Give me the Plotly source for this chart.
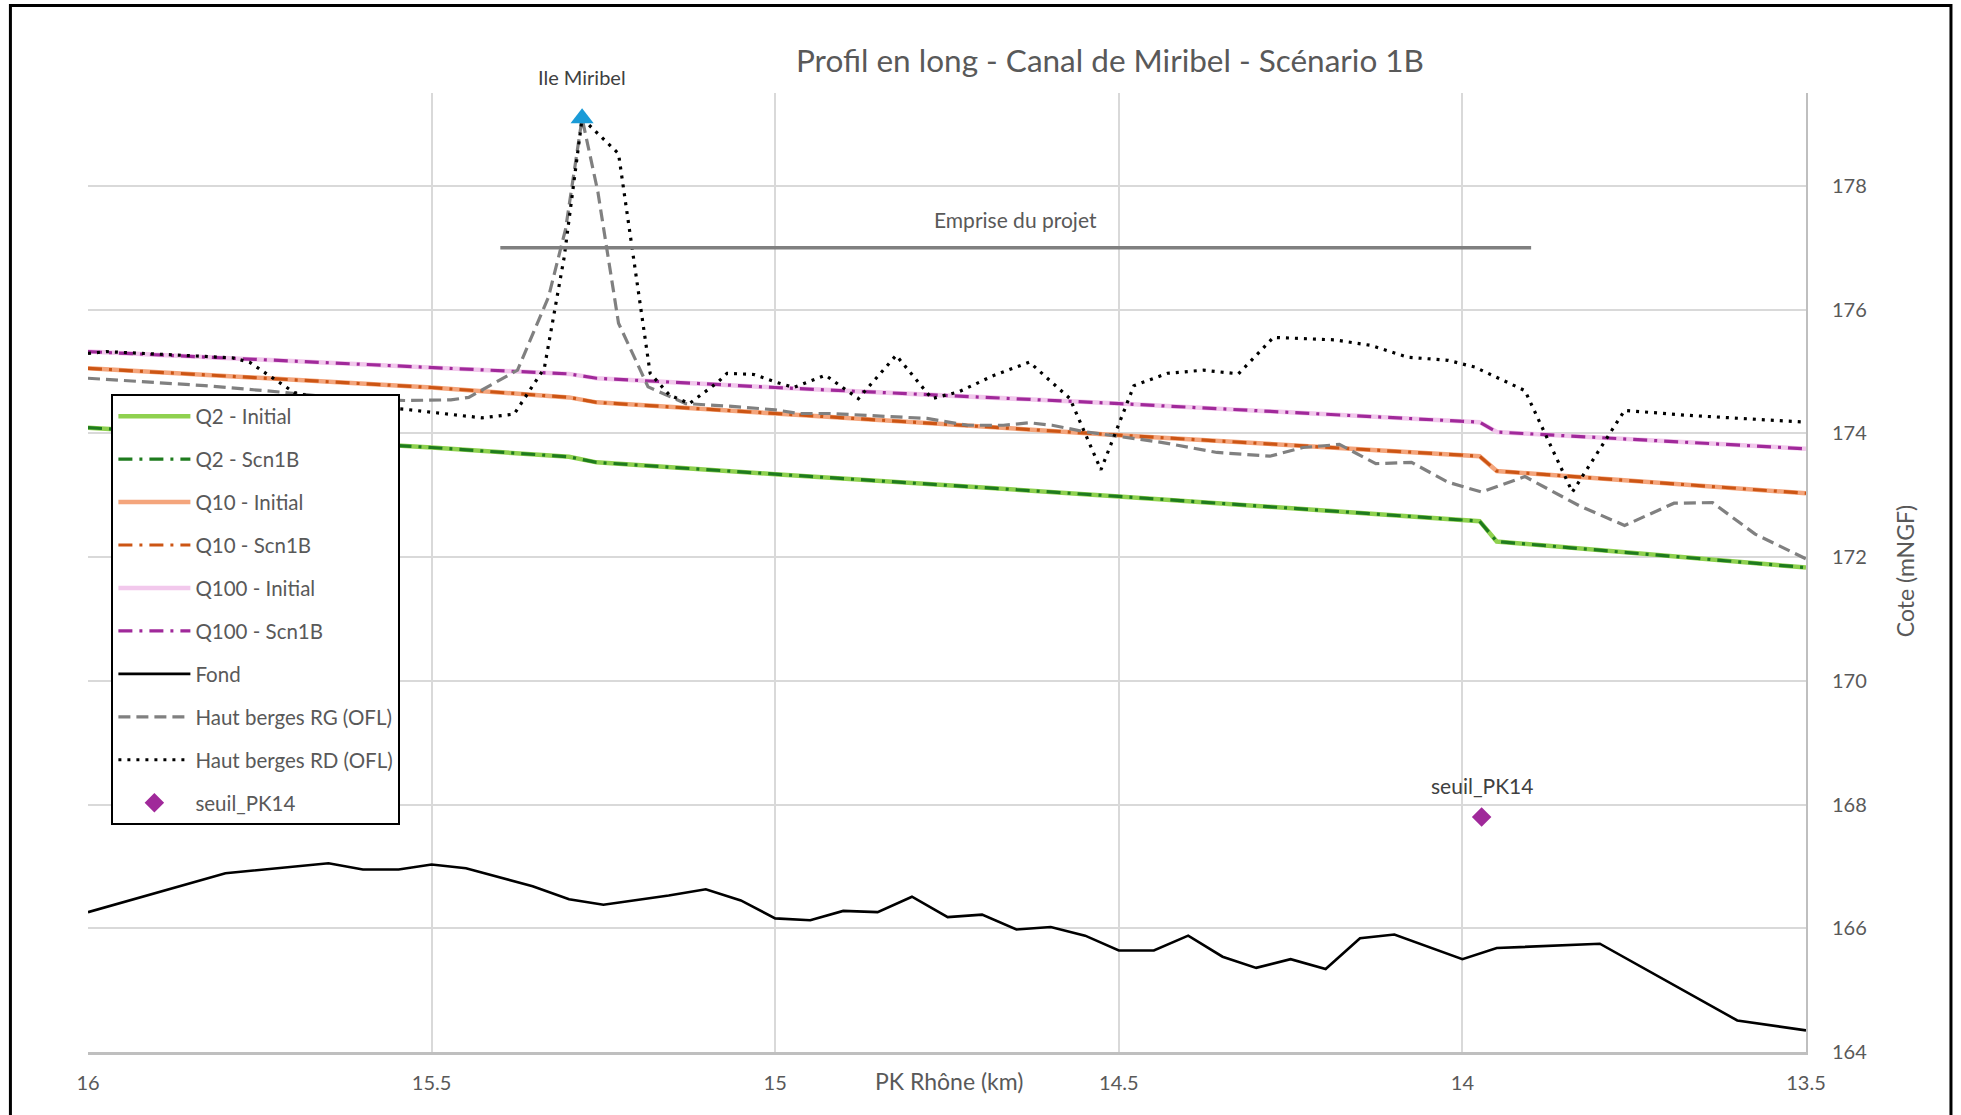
import plotly.graph_objects as go

# ---- Data: PK Rhône (km) and elevations (mNGF) ----
km_q = [16.0, 15.5, 15.3, 15.26, 15.0, 14.5, 13.975, 13.95, 13.5]
q2_initial = [174.09, 173.77, 173.62, 173.53, 173.34, 172.98, 172.58, 172.25, 171.83]
q2_scn1b = [174.09, 173.77, 173.62, 173.53, 173.34, 172.98, 172.58, 172.25, 171.83]
q10_initial = [175.05, 174.74, 174.58, 174.50, 174.32, 173.97, 173.63, 173.39, 173.03]
q10_scn1b = [175.05, 174.74, 174.58, 174.50, 174.32, 173.97, 173.63, 173.39, 173.03]
q100_initial = [175.32, 175.06, 174.96, 174.89, 174.74, 174.48, 174.18, 174.02, 173.75]
q100_scn1b = [175.32, 175.06, 174.96, 174.89, 174.74, 174.48, 174.18, 174.02, 173.75]

km_fond = [16.0, 15.8, 15.65, 15.6, 15.548, 15.5, 15.45, 15.353, 15.3, 15.25, 15.155,
           15.101, 15.05, 15.0, 14.949, 14.901, 14.851, 14.801, 14.749, 14.699, 14.649,
           14.599, 14.549, 14.5, 14.449, 14.399, 14.349, 14.3, 14.25, 14.199, 14.149,
           14.099, 14.0, 13.95, 13.8, 13.6, 13.5]
fond = [166.26, 166.89, 167.05, 166.95, 166.95, 167.03, 166.97, 166.68, 166.47, 166.38, 166.53,
        166.63, 166.45, 166.16, 166.13, 166.28, 166.26, 166.51, 166.18, 166.22, 165.98,
        166.02, 165.88, 165.64, 165.64, 165.88, 165.54, 165.36, 165.50, 165.34, 165.84,
        165.90, 165.50, 165.68, 165.75, 164.51, 164.35]

km_rg = [16.0, 15.83, 15.713, 15.62, 15.537, 15.472, 15.446, 15.375, 15.33, 15.305, 15.281,
         15.258, 15.228, 15.185, 15.13, 15.07, 15.0, 14.966, 14.921, 14.779, 14.72, 14.668,
         14.63, 14.597, 14.552, 14.5, 14.436, 14.357, 14.28, 14.232, 14.179, 14.126, 14.074,
         14.021, 13.972, 13.909, 13.83, 13.764, 13.692, 13.636, 13.574, 13.5]
rg = [174.89, 174.77, 174.66, 174.55, 174.53, 174.54, 174.58, 175.02, 176.2, 177.3, 179.09,
      177.9, 175.78, 174.75, 174.48, 174.44, 174.38, 174.32, 174.32, 174.24, 174.13, 174.13,
      174.17, 174.13, 174.03, 173.95, 173.85, 173.69, 173.63, 173.77, 173.82, 173.51, 173.53,
      173.21, 173.05, 173.30, 172.83, 172.51, 172.87, 172.88, 172.37, 171.97]

km_rd = [16.0, 15.973, 15.79, 15.765, 15.732, 15.70, 15.62, 15.54, 15.427, 15.38, 15.336,
         15.307, 15.281, 15.228, 15.182, 15.154, 15.125, 15.083, 15.07, 15.031, 15.0, 14.973,
         14.927, 14.879, 14.824, 14.772, 14.733, 14.681, 14.63, 14.571, 14.526, 14.478,
         14.429, 14.377, 14.326, 14.275, 14.186, 14.133, 14.08, 14.021, 13.982, 13.909,
         13.84, 13.764, 13.672, 13.5]
rd = [175.29, 175.32, 175.22, 175.15, 174.90, 174.66, 174.45, 174.39, 174.25, 174.31, 175.05,
      176.85, 179.09, 178.52, 174.97, 174.62, 174.48, 174.83, 174.97, 174.95, 174.83, 174.74,
      174.94, 174.56, 175.26, 174.56, 174.67, 174.94, 175.15, 174.56, 173.41, 174.77,
      174.97, 175.02, 174.96, 175.55, 175.51, 175.42, 175.23, 175.18, 175.07, 174.69,
      173.05, 174.37, 174.29, 174.18]

seuil_km = [13.972]
seuil_z = [167.80]

ile_km = [15.281]
ile_z = [179.09]

emprise_km = [15.4, 13.9]
emprise_z = [177.0, 177.0]

x_ticks = [16, 15.5, 15, 14.5, 14, 13.5]
x_ticktext = ["16", "15.5", "15", "14.5", "14", "13.5"]

# ---- Styling ----
FONT = "Lato"
TXT = "#595959"
GRID = "#D9D9D9"
W, H = 1961, 1115
L, R, T, B = 87.6, 1806.0, 92.5, 1052.0
PW, PH = R - L, B - T


def px_to_paper_x(px):
    return (px - L) / PW


def px_to_paper_y(py):
    return (B - py) / PH


DASHDOT = "14px,7px,3px,7px"

fig = go.Figure()


def add_line(x, y, name, color, width, dash):
    fig.add_trace(go.Scatter(
        x=x, y=y, name=name, mode="lines", legendgroup=name,
        line=dict(color=color, width=width, dash=dash),
    ))


add_line(km_q, q2_initial, "Q2 - Initial", "#8FD14F", 4.5, "solid")
add_line(km_q, q2_scn1b, "Q2 - Scn1B", "#1E7B1E", 3.2, DASHDOT)
add_line(km_q, q10_initial, "Q10 - Initial", "#F4A57C", 4.5, "solid")
add_line(km_q, q10_scn1b, "Q10 - Scn1B", "#CC5514", 3.2, DASHDOT)
add_line(km_q, q100_initial, "Q100 - Initial", "#F2C8EC", 4.5, "solid")
add_line(km_q, q100_scn1b, "Q100 - Scn1B", "#A0299A", 3.2, DASHDOT)
add_line(km_fond, fond, "Fond", "#000000", 2.6, "solid")
add_line(km_rg, rg, "Haut berges RG (OFL)", "#808080", 3.2, "12px,6px")
add_line(km_rd, rd, "Haut berges RD (OFL)", "#000000", 3.2, "3px,6px")

fig.add_trace(go.Scatter(
    x=seuil_km, y=seuil_z, name="seuil_PK14", mode="markers", legendgroup="seuil",
    marker=dict(symbol="diamond", size=15, color="#A0299A"),
))

# Project extent bar
fig.add_trace(go.Scatter(
    x=emprise_km, y=emprise_z, mode="lines", showlegend=False,
    line=dict(color="#808080", width=3.5),
))

# Ile Miribel marker
fig.add_trace(go.Scatter(
    x=ile_km, y=ile_z, mode="markers", showlegend=False,
    marker=dict(symbol="triangle-up", size=20, color="#1A9BD7"),
))

annotations = [
    dict(text="Profil en long - Canal de Miribel - Scénario 1B", xref="paper", yref="paper",
         x=px_to_paper_x(1110), y=px_to_paper_y(59), xanchor="center", yanchor="middle",
         showarrow=False, font=dict(family=FONT, size=31.5, color=TXT)),
    dict(text="PK Rhône (km)", xref="paper", yref="paper",
         x=px_to_paper_x(949), y=px_to_paper_y(1081), xanchor="center", yanchor="middle",
         showarrow=False, font=dict(family=FONT, size=23, color=TXT)),
    dict(text="Cote (mNGF)", xref="paper", yref="paper", textangle=-90,
         x=px_to_paper_x(1905), y=px_to_paper_y(571), xanchor="center", yanchor="middle",
         showarrow=False, font=dict(family=FONT, size=23, color=TXT)),
    dict(text="Emprise du projet", x=sum(emprise_km) / 2, y=emprise_z[0], yshift=28,
         xanchor="center", yanchor="middle", showarrow=False,
         font=dict(family=FONT, size=21, color=TXT)),
    dict(text="Ile Miribel", x=ile_km[0], y=ile_z[0], yshift=41,
         xanchor="center", yanchor="middle", showarrow=False,
         font=dict(family=FONT, size=20, color="#404040")),
    dict(text="seuil_PK14", x=seuil_km[0], y=seuil_z[0], yshift=31,
         xanchor="center", yanchor="middle", showarrow=False,
         font=dict(family=FONT, size=21, color="#404040")),
]

fig.update_layout(
    width=W, height=H,
    margin=dict(l=L, r=W - R, t=T, b=H - B, pad=0),
    paper_bgcolor="white", plot_bgcolor="white",
    font=dict(family=FONT, size=20, color=TXT),
    showlegend=True,
    legend=dict(
        x=px_to_paper_x(111), y=px_to_paper_y(394), xanchor="left", yanchor="top",
        bgcolor="white", bordercolor="black", borderwidth=2,
        font=dict(family=FONT, size=20.5, color=TXT),
        tracegroupgap=13.3, itemwidth=72,
    ),
    xaxis=dict(
        range=[16, 13.5], tickvals=x_ticks, ticktext=x_ticktext,
        showgrid=True, gridcolor=GRID, gridwidth=1.5, zeroline=False,
        showline=True, linecolor="#BFBFBF", linewidth=2.5, ticks="",
        tickfont=dict(family=FONT, size=20, color=TXT), ticklabelstandoff=11,
    ),
    yaxis=dict(
        side="right", range=[164, 179.5], tick0=164, dtick=2,
        showgrid=True, gridcolor=GRID, gridwidth=1.5, zeroline=False,
        showline=True, linecolor="#BFBFBF", linewidth=2, ticks="",
        tickfont=dict(family=FONT, size=20, color=TXT), ticklabelstandoff=20,
    ),
    annotations=annotations,
    shapes=[dict(
        type="rect", xref="paper", yref="paper",
        x0=px_to_paper_x(10), x1=px_to_paper_x(1951),
        y0=px_to_paper_y(1130), y1=px_to_paper_y(5),
        line=dict(color="black", width=3), fillcolor="rgba(0,0,0,0)", layer="above",
    )],
)

fig.write_html("out.html")
